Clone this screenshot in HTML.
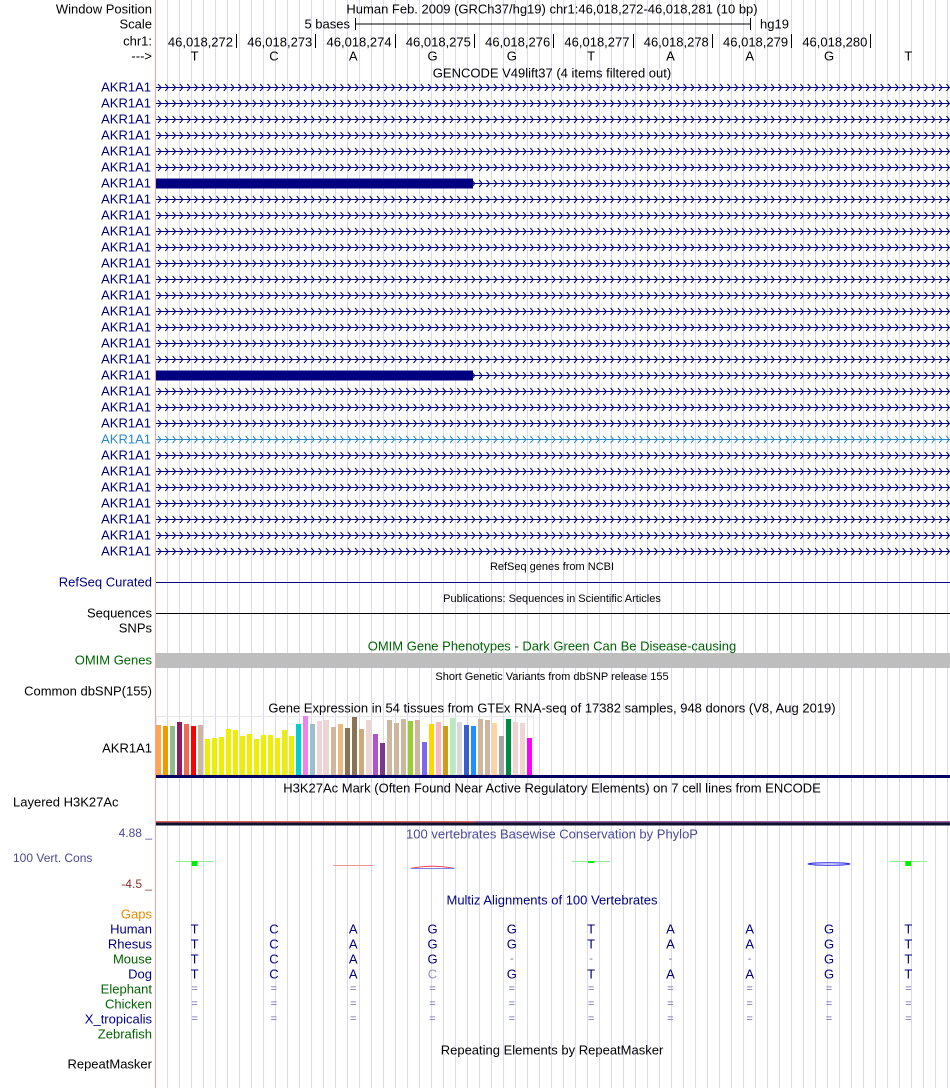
<!DOCTYPE html>
<html><head><meta charset="utf-8">
<style>
html,body{margin:0;padding:0;background:#fff;}
svg{display:block;font-family:"Liberation Sans",Arial,sans-serif;}
</style></head>
<body>
<svg id="c" width="950" height="1088" viewBox="0 0 950 1088" xmlns="http://www.w3.org/2000/svg">
<g id="grid"></g>
<line x1="155.5" y1="0" x2="155.5" y2="1088" stroke="#ffa0a0" stroke-width="1"/>
<g id="content"></g>
</svg>
<script>
const ns="http://www.w3.org/2000/svg";
const content=document.getElementById('content');
const grid=document.getElementById('grid');
function mk(tag,attrs,parent){const e=document.createElementNS(ns,tag);for(const k in attrs)e.setAttribute(k,attrs[k]);(parent||content).appendChild(e);return e;}
function txt(s,x,y,anchor,size,color,name){const t=mk('text',{x:x,y:y,'text-anchor':anchor,'font-size':size,fill:color,'dominant-baseline':'central'});t.textContent=s;


return t;}

for(let x=167.5;x<950;x+=12){const l=mk('line',{x1:x,y1:0,x2:x,y2:1088,stroke:'#d8d8f8','stroke-width':1},grid);

}

const bases=['T','C','A','G','G','T','A','A','G','T'];
const positions=['46,018,272','46,018,273','46,018,274','46,018,275','46,018,276','46,018,277','46,018,278','46,018,279','46,018,280'];
const gtexValues=[50,49,49,53,51,49,50,36,37,38,46,45,39,41,36,40,40,37,45,39,51,59,51,54,55,48,51,47,58,46,55,41,32,55,52,56,54,55,33,51,53,49,57,53,50,49,56,55,52,39,56,53,52,37];
const gtexColors=['#FFA54F','#EE9A00','#8FBC8F','#8B1C62','#EE6A50','#FF0000','#CDB79E','#EEEE00','#EEEE00','#EEEE00','#EEEE00','#EEEE00','#EEEE00','#EEEE00','#EEEE00','#EEEE00','#EEEE00','#EEEE00','#EEEE00','#EEEE00','#00CED1','#EE82EE','#9AC0CD','#EED5D2','#EED5D2','#CDB79E','#EEB97E','#8B7355','#8B7355','#CDAA7D','#EED5D2','#B452CD','#7A378B','#CDB79E','#CDB79E','#CDB79E','#9ACD32','#CDB79E','#7B68EE','#FFD700','#FFB6C1','#CD9B1D','#B4EEB4','#D9D9D9','#3A5FCD','#1E90FF','#CDB79E','#CDB79E','#FFD39B','#A6A6A6','#008B45','#EED5D2','#EED5D2','#FF00FF'];
const species=['Human','Rhesus','Mouse','Dog','Elephant','Chicken','X_tropicalis','Zebrafish'];
const speciesColors=['#000080','#000080','#006400','#000080','#006400','#006400','#000080','#006400'];
const alignments=['TCAGGTAAGT','TCAGGTAAGT','TCAG----GT','TCACGTAAGT','==========','==========','==========',''];

const baseX=i=>155+79.3*i+39.6;

txt('Window Position',152,9,'end',13,'#000','window-position-label');
txt('Human Feb. 2009 (GRCh37/hg19)   chr1:46,018,272-46,018,281 (10 bp)',552,9,'middle',13,'#000','window-position-title');
txt('Scale',152,24,'end',13,'#000','scale-label');
txt('5 bases',350,24,'end',13,'#000','scale-bar-text');
mk('line',{x1:355.5,y1:18,x2:355.5,y2:30,stroke:'#000'});
mk('line',{x1:750.5,y1:18,x2:750.5,y2:30,stroke:'#000'});
mk('line',{x1:355,y1:24,x2:750,y2:24,stroke:'#000'});
txt('hg19',760,24,'start',13,'#000','assembly-label');
txt('chr1:',152,41,'end',13,'#000','chrom-label');
positions.forEach((p,i)=>{const tx=236+79.3*i;txt(p,tx-3,42,'end',13,'#000','position-tick-label');
mk('line',{x1:Math.round(tx)+0.5,y1:34,x2:Math.round(tx)+0.5,y2:48,stroke:'#000'});});
txt('--->',152,56,'end',13,'#000','strand-label');
bases.forEach((b,i)=>txt(b,baseX(i),56,'middle',13,'#000','base-letter'));

txt('GENCODE V49lift37 (4 items filtered out)',552,73,'middle',13,'#000','gencode-track-title');
for(let r=0;r<30;r++){const y=87+16*r;const light=(r===22);
 const col=light?'#2a8ac8':'#000080';
 txt('AKR1A1',151,y,'end',13,col,'transcript-label');
 const g=mk('g',{transform:'translate(0,'+y+')'});
 
 
 mk('line',{x1:156,y1:0.5,x2:950,y2:0.5,stroke:col},g);
 let ch='';for(let x=158;x<948;x+=7.3){ch+='M'+x.toFixed(1)+' -3 L'+(x+3).toFixed(1)+' 0.5 L'+x.toFixed(1)+' 4 ';}
 mk('path',{d:ch,fill:'none',stroke:col,'stroke-width':1},g);
 if(r===6||r===18){mk('rect',{x:156,y:-4.5,width:317,height:10,fill:'#000080'},g);}
}

txt('RefSeq genes from NCBI',552,567,'middle',11,'#000','refseq-track-title');
txt('RefSeq Curated',152,582,'end',13,'#000080','refseq-label');
mk('line',{x1:156,y1:582.5,x2:950,y2:582.5,stroke:'#000080'});
txt('Publications: Sequences in Scientific Articles',552,599,'middle',11,'#000','publications-track-title');
txt('Sequences',152,613,'end',13,'#000','sequences-label');
mk('line',{x1:156,y1:613.5,x2:950,y2:613.5,stroke:'#000'});
txt('SNPs',152,628,'end',13,'#000','snps-label');
txt('OMIM Gene Phenotypes - Dark Green Can Be Disease-causing',552,646,'middle',13,'#006400','omim-track-title');
txt('OMIM Genes',152,660,'end',13,'#006400','omim-label');
mk('rect',{x:156,y:653,width:794,height:15,fill:'#bebebe'});
txt('Short Genetic Variants from dbSNP release 155',552,677,'middle',11,'#000','dbsnp-track-title');
txt('Common dbSNP(155)',152,691,'end',13,'#000','dbsnp-label');

txt('Gene Expression in 54 tissues from GTEx RNA-seq of 17382 samples, 948 donors (V8, Aug 2019)',552,708,'middle',13,'#000','gtex-track-title');
txt('AKR1A1',152,748,'end',13,'#000','gtex-label');
mk('rect',{x:156.5,y:716.5,width:377,height:58,fill:'none',stroke:'#e8e8e8'});
const gBase=775, gScale=1;
const gx=i=>156+7*i;
gtexValues.forEach((v,i)=>{const r=mk('rect',{x:gx(i),y:gBase-v*gScale,width:5,height:v*gScale,fill:gtexColors[i]});

});
mk('rect',{x:156,y:775,width:794,height:3,fill:'#000060'});

txt('H3K27Ac Mark (Often Found Near Active Regulatory Elements) on 7 cell lines from ENCODE',552,788,'middle',13,'#000','h3k27ac-track-title');
txt('Layered H3K27Ac',13,802,'start',13,'#000','h3k27ac-label');
mk('rect',{x:156,y:821,width:320,height:1.5,fill:'#e06060'});
mk('rect',{x:476,y:821,width:474,height:1.5,fill:'#a060a0'});
mk('rect',{x:156,y:822.5,width:794,height:3,fill:'#101030'});

txt('4.88 _',152,833,'end',12,'#4a4a9a','phylop-max-label');
txt('100 vertebrates Basewise Conservation by PhyloP',552,834,'middle',13,'#4a4a9a','phylop-track-title');
txt('100 Vert. Cons',13,858,'start',12,'#4a4a9a','phylop-label');
txt('-4.5 _',152,884,'end',12,'#8a3030','phylop-min-label');
const consBases=[0,2,3,5,8,9];
const consKinds=['up','down','down','up','neg','up'];
const consSizes=[5,0,0,2,0,5];
consBases.forEach((b,k)=>{const cx=baseX(b);const kind=consKinds[k];
 if(kind==='up'){mk('line',{x1:cx-19,y1:861.5,x2:cx+19,y2:861.5,stroke:'#90f090'});
  mk('rect',{x:cx-3,y:861,width:6,height:consSizes[k],fill:'#00ee00'});}
 else if(kind==='down'){
  if(b===2)mk('line',{x1:cx-20,y1:865.5,x2:cx+20,y2:865.5,stroke:'#f09090'});
  else{mk('path',{d:'M'+(cx-22)+' 868.5 Q'+cx+' 864 '+(cx+22)+' 868.5',fill:'none',stroke:'#f04040'});
   mk('line',{x1:cx-22,y1:868.5,x2:cx+22,y2:868.5,stroke:'#8080f0'});}}
 else{mk('ellipse',{cx:cx,cy:864,rx:21,ry:1.2,fill:'none',stroke:'#2020ee'});}
});

txt('Multiz Alignments of 100 Vertebrates',552,900,'middle',13,'#000080','multiz-track-title');
txt('Gaps',152,914,'end',13,'#ee8800','gaps-label');
species.forEach((sp,k)=>{const y=929+15*k;txt(sp,152,y,'end',13,speciesColors[k],'species-label-'+sp.toLowerCase());
 const al=alignments[k];for(let i=0;i<al.length;i++){let ch=al[i],col='#000080',sz=13;
  if(ch==='='||ch==='-'){col='#6a6ab0';sz=11;}
  if(k===3&&i===3)col='#9090c0';
  txt(ch,baseX(i),y,'middle',sz,col,'alignment-base');}});

txt('Repeating Elements by RepeatMasker',552,1050,'middle',13,'#000','repeatmasker-track-title');
txt('RepeatMasker',152,1064,'end',13,'#000','repeatmasker-label');
</script>
</body></html>
